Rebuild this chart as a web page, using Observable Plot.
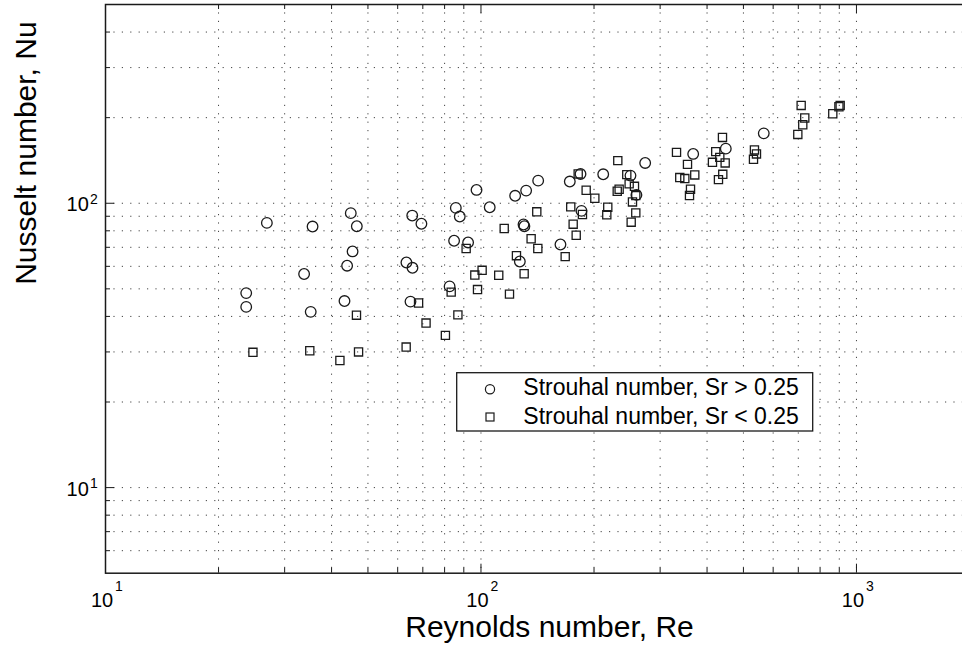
<!DOCTYPE html>
<html>
<head>
<meta charset="utf-8">
<script src="https://cdn.jsdelivr.net/npm/d3@7"></script>
<script src="https://cdn.jsdelivr.net/npm/@observablehq/plot@0.6"></script>
<style>
  html, body { margin: 0; padding: 0; background: #fff; overflow: hidden; }
  #chart { width: 962px; height: 650px; overflow: hidden; }
  #chart svg { max-width: none !important; width: 975px; height: 650px; display: block; }
</style>
</head>
<body>
<div id="chart"></div>
<script>
// Sr > 0.25 (circles)
const highRe = [26.9,35.6,45.0,46.7,45.5,44.0,33.8,23.7,23.7,43.3,35.2,65.6,69.4,63.3,65.7,64.9,97.3,85.7,87.8,105.5,84.8,92.4,82.5,123.3,131.9,142.0,129.8,130.5,126.9,162.8,172.4,184.1,185.2,211.6,250.1,259.4,273.7,367.4,448.7,566.4];
const highNu = [85.3,82.8,92.3,83.0,67.7,60.3,56.4,48.3,43.2,45.3,41.5,90.5,84.7,61.9,59.3,45.1,111.4,96.3,89.8,96.8,73.8,72.8,51.0,106.2,110.8,120.1,84.2,83.0,62.4,71.6,119.2,126.8,94.0,126.4,125.1,107.0,138.6,149.1,155.6,176.1];
// Sr < 0.25 (squares)
const lowRe = [91.3,100.7,96.3,111.5,83.3,97.9,68.2,46.6,71.4,86.8,80.4,24.7,35.0,42.1,47.2,63.2,119.1,115.3,140.8,136.0,141.7,124.3,130.3,173.4,186.3,176.0,179.3,167.6,181.5,190.6,201.0,231.4,217.6,216.3,230.6,233.3,244.5,248.1,256.3,258.4,253.2,258.4,251.2,331.7,354.8,338.4,349.0,371.0,361.4,359.2,439.7,421.9,432.5,413.5,447.0,440.5,429.0,534.9,541.6,531.8,712.4,728.3,719.4,697.9,904.9,898.0,864.8];
const lowNu = [69.3,58.1,55.9,55.8,48.7,49.7,44.6,40.4,37.9,40.5,34.3,29.9,30.3,28.0,30.0,31.2,47.9,81.5,93.3,75.0,69.3,65.4,56.5,97.1,91.3,84.4,77.2,64.9,126.8,111.1,104.1,141.2,96.8,91.1,110.2,112.0,126.1,117.0,114.7,106.4,101.1,92.5,85.8,151.0,137.0,123.1,122.1,125.8,112.0,106.4,170.4,151.9,145.0,139.3,138.6,126.4,121.1,154.0,149.1,142.7,220.8,199.4,188.8,174.6,220.8,218.5,206.4];

const xMajor = [10, 100, 1000];
const xMinor = [20,30,40,50,60,70,80,90,200,300,400,500,600,700,800,900];
const yMajor = [10, 100];
const yMinor = [6,7,8,9,20,30,40,50,60,70,80,90,200,300,400];
const legendLabels = ["Strouhal number, Sr > 0.25", "Strouhal number, Sr < 0.25"];
const xTitle = "Reynolds number, Re";
const yTitle = "Nusselt number, Nu";

const high = highRe.map((x, i) => ({x, y: highNu[i]}));
const low = lowRe.map((x, i) => ({x, y: lowNu[i]}));

const W = 975, H = 650, mL = 105, mR = 6, mT = 4, mB = 77.3;
const fw = W - mL - mR, fh = H - mT - mB;
const ink = "#1a1a1a";
const gridStyle = {stroke: "#444", strokeWidth: 1, strokeDasharray: "1.2,7.2"};
const font = "'Liberation Sans', Arial, Helvetica, sans-serif";

const chart = Plot.plot({
  width: W, height: H,
  marginLeft: mL, marginRight: mR, marginTop: mT, marginBottom: mB,
  style: {fontFamily: font, background: "white", color: "black", maxWidth: "none"},
  x: {type: "log", domain: [10, 2000], axis: null},
  y: {type: "log", domain: [5, 500], axis: null},
  marks: [
    // grid
    Plot.ruleX([...xMinor, 100, 1000], {x: d => d, ...gridStyle}),
    Plot.ruleY([...yMinor, ...yMajor], {y: d => d, ...gridStyle}),
    // ticks bottom / top
    Plot.ruleX(xMinor, {x: d => d, insetTop: fh - 5, stroke: ink, strokeWidth: 1}),
    Plot.ruleX(xMajor, {x: d => d, insetTop: fh - 9, stroke: ink, strokeWidth: 1}),
    Plot.ruleX(xMinor, {x: d => d, insetBottom: fh - 5, stroke: ink, strokeWidth: 1}),
    Plot.ruleX(xMajor, {x: d => d, insetBottom: fh - 9, stroke: ink, strokeWidth: 1}),
    // ticks left
    Plot.ruleY(yMinor, {y: d => d, insetRight: fw - 5, stroke: ink, strokeWidth: 1}),
    Plot.ruleY(yMajor, {y: d => d, insetRight: fw - 9, stroke: ink, strokeWidth: 1}),
    Plot.frame({stroke: ink, strokeWidth: 1.5}),
    // data
    Plot.dot(high, {x: "x", y: "y", symbol: "circle", r: 5.3, stroke: ink, strokeWidth: 1.3, fill: "none"}),
    Plot.dot(low, {x: "x", y: "y", symbol: "square", r: 4.6, stroke: ink, strokeWidth: 1.3, fill: "none"}),
    // x tick labels: 10 with superscript exponent
    Plot.text(xMajor, {x: d => d, frameAnchor: "bottom", text: () => "10", dy: 34, dx: -3.5, lineAnchor: "bottom", fontSize: 20, fill: "black"}),
    Plot.text(xMajor, {x: d => d, frameAnchor: "bottom", text: d => String(Math.round(Math.log10(d))), dy: 17.5, dx: 13.5, lineAnchor: "bottom", fontSize: 14, fill: "black"}),
    // y tick labels
    Plot.text(yMajor, {y: d => d, frameAnchor: "left", text: () => "10", dx: -16.7, dy: 8, textAnchor: "end", lineAnchor: "bottom", fontSize: 20, fill: "black"}),
    Plot.text(yMajor, {y: d => d, frameAnchor: "left", text: d => String(Math.round(Math.log10(d))), dx: -15.5, dy: 0.5, textAnchor: "start", lineAnchor: "bottom", fontSize: 14, fill: "black"}),
    // axis titles
    Plot.text([xTitle], {frameAnchor: "bottom", text: d => d, dx: 12, dy: 64, lineAnchor: "bottom", fontSize: 30, fill: "black"}),
    Plot.text([yTitle], {frameAnchor: "left", text: d => d, rotate: -90, dx: -70, dy: -4, lineAnchor: "bottom", fontSize: 30, fill: "black"})
  ]
});

// legend inside the axes
const svg = d3.select(chart);
const lg = svg.append("g").attr("font-family", font).attr("text-anchor", "start");
lg.append("rect").attr("x", 456.7).attr("y", 372.7).attr("width", 356).attr("height", 58.3)
  .attr("fill", "white").attr("stroke", ink).attr("stroke-width", 1.3);
lg.append("circle").attr("cx", 490).attr("cy", 389.3).attr("r", 4.6)
  .attr("fill", "none").attr("stroke", ink).attr("stroke-width", 1.2);
lg.append("rect").attr("x", 486).attr("y", 413).attr("width", 8).attr("height", 8)
  .attr("fill", "none").attr("stroke", ink).attr("stroke-width", 1.2);
legendLabels.forEach((t, i) => {
  lg.append("text").attr("x", 523.3).attr("y", 395 + i * 28.5).attr("font-size", 23)
    .attr("text-anchor", "start").attr("fill", "black").text(t);
});

document.getElementById("chart").appendChild(chart);
</script>
</body>
</html>
